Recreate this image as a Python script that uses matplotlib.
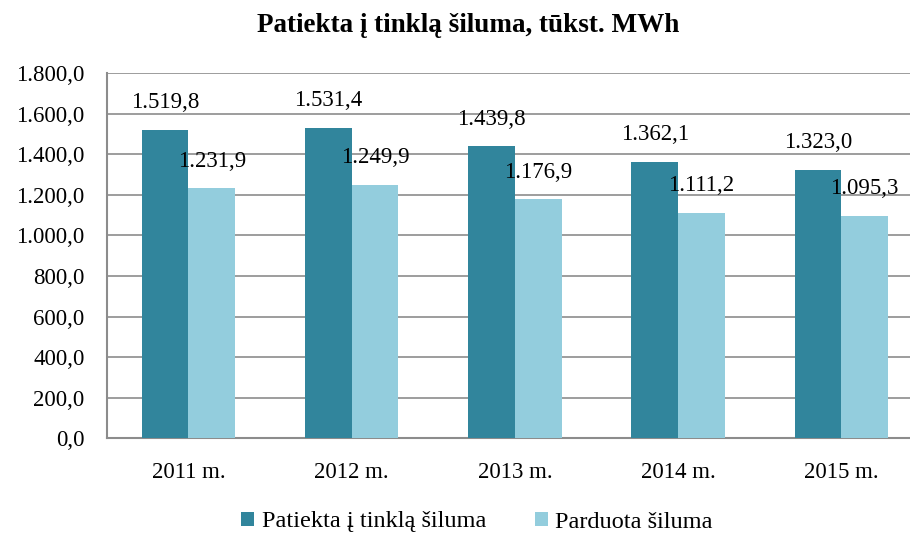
import matplotlib
matplotlib.use("Agg")
import matplotlib.pyplot as plt
import numpy as np

categories = ["2011 m.", "2012 m.", "2013 m.", "2014 m.", "2015 m."]
series_names = ["Patiekta į tinklą šiluma", "Parduota šiluma"]
supplied = [1519.8, 1531.4, 1439.8, 1362.1, 1323.0]
sold = [1231.9, 1249.9, 1176.9, 1111.2, 1095.3]
yticks = [0, 200, 400, 600, 800, 1000, 1200, 1400, 1600, 1800]

def fmt(v):
    s = f"{v:,.1f}"
    return s.replace(",", "X").replace(".", ",").replace("X", ".")

plt.rcParams['font.family'] = ['Liberation Serif', 'DejaVu Serif']

fig = plt.figure(figsize=(9.10, 5.36), dpi=100)
ax = fig.add_axes([106.7/910, 1 - 438.3/536, (923 - 106.7)/910, (438.3 - 73)/536])

x = np.arange(len(categories))
w = 0.286
dark = "#31859C"
light = "#93CDDD"
fs = 16.5
b1 = ax.bar(x - w/2, supplied, w, color=dark, label=series_names[0], zorder=3)
b2 = ax.bar(x + w/2, sold, w, color=light, label=series_names[1], zorder=3)

for rects, vals in ((b1, supplied), (b2, sold)):
    for r, v in zip(rects, vals):
        ax.annotate(fmt(v), (r.get_x() + r.get_width()/2, v), xytext=(0, 19.5),
                    textcoords="offset points", ha="center", va="center",
                    fontsize=fs, color="black", zorder=4)

ax.set_xlim(-0.5, len(categories) - 0.5)
ax.set_ylim(0, 1800)
ax.set_yticks(yticks)
ax.set_yticklabels([fmt(v) for v in yticks], fontsize=fs)
ax.set_xticks(x)
ax.set_xticklabels(categories, fontsize=fs)
ax.tick_params(axis='both', length=0)
ax.tick_params(axis='y', pad=16)
ax.tick_params(axis='x', pad=17)
ax.yaxis.grid(True, color="#8c8c8c", linewidth=1.2, zorder=0)
ax.set_axisbelow(True)
for s in ("top", "right"):
    ax.spines[s].set_visible(False)
for s in ("left", "bottom"):
    ax.spines[s].set_color("#8c8c8c")
    ax.spines[s].set_linewidth(1.5)

fig.text(468/910, 1 - 26/536, "Patiekta į tinklą šiluma, tūkst. MWh",
         ha="center", va="center", fontsize=19.5, fontweight="bold")

fig.legend(handles=[b1, b2], labels=series_names, loc="center",
           bbox_to_anchor=(477/910, 1 - 522/536), ncol=2, frameon=False,
           fontsize=17.5, handlelength=0.55, handleheight=0.55, handletextpad=0.3,
           columnspacing=2.0)

fig.savefig("out.png", dpi=100)
